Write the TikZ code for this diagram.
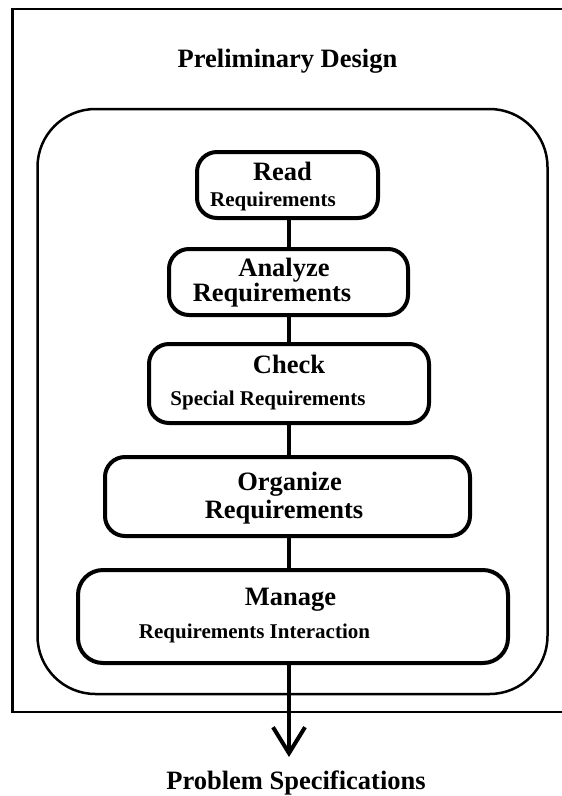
\documentclass[tikz,border=0pt]{standalone}
\usepackage{fontspec}
\setmainfont{Liberation Serif}
\usetikzlibrary{arrows.meta}
\begin{document}
\begin{tikzpicture}[x=1pt,y=-1pt,
  stage/.style={draw, line width=4pt, rounded corners=20pt, inner sep=0pt},
  big/.style={font=\fontsize{26.5}{30}\selectfont\bfseries, anchor=base, inner sep=0pt},
  small/.style={font=\fontsize{21}{24}\selectfont\bfseries, anchor=base, inner sep=0pt},
  flow/.style={line width=4pt},
]
\useasboundingbox (0,0) rectangle (562,796);
\fill[white] (0,0) rectangle (562,796);
% frame, open on the right
\draw[line width=2.8pt] (562,9) -- (12.7,9) -- (12.7,712) -- (562,712);
\node[big] (title) at (287.5,67) {Preliminary Design};
% rounded group holding the stages
\node[draw, line width=2.5pt, rounded corners=58pt, minimum width=510pt,
      minimum height=585pt, inner sep=0pt] (group) at (292.5,401.5) {};
% stages
\node[stage, minimum width=181pt, minimum height=66pt] (read) at (287.5,185) {};
\node[stage, minimum width=239pt, minimum height=66pt] (analyze) at (288.5,282) {};
\node[stage, minimum width=280pt, minimum height=79pt] (check) at (289,383.5) {};
\node[stage, minimum width=365pt, minimum height=79pt] (organize) at (287.5,496.5) {};
\node[stage, minimum width=430pt, minimum height=93pt, rounded corners=25pt] (manage) at (293,616.5) {};
% stage labels
\node[big]   (readA) at (282.5,180) {Read};
\node[small] (readB) at (273,206) {Requirements};
\node[big]   (anaA)  at (284,276) {Analyze};
\node[big]   (anaB)  at (272,301) {Requirements};
\node[big]   (chkA)  at (289,373) {Check};
\node[small] (chkB)  at (268,405) {Special Requirements};
\node[big]   (orgA)  at (289.5,490) {Organize};
\node[big]   (orgB)  at (284,518) {Requirements};
\node[big]   (manA)  at (290.5,605) {Manage};
\node[small] (manB)  at (254.5,638) {Requirements Interaction};
% connectors
\coordinate (spine) at (289,0);
\draw[flow] (read.south -| spine) -- (analyze.north -| spine);
\draw[flow] (analyze.south -| spine) -- (check.north -| spine);
\draw[flow] (check.south -| spine) -- (organize.north -| spine);
\draw[flow] (organize.south -| spine) -- (manage.north -| spine);
\coordinate (out) at (289,757);
\draw[flow, -{Straight Barb[length=26pt, width=32pt]}] (manage.south -| spine) -- (out);
\node[big] (spec) at (296,789) {Problem Specifications};
\end{tikzpicture}
\end{document}
